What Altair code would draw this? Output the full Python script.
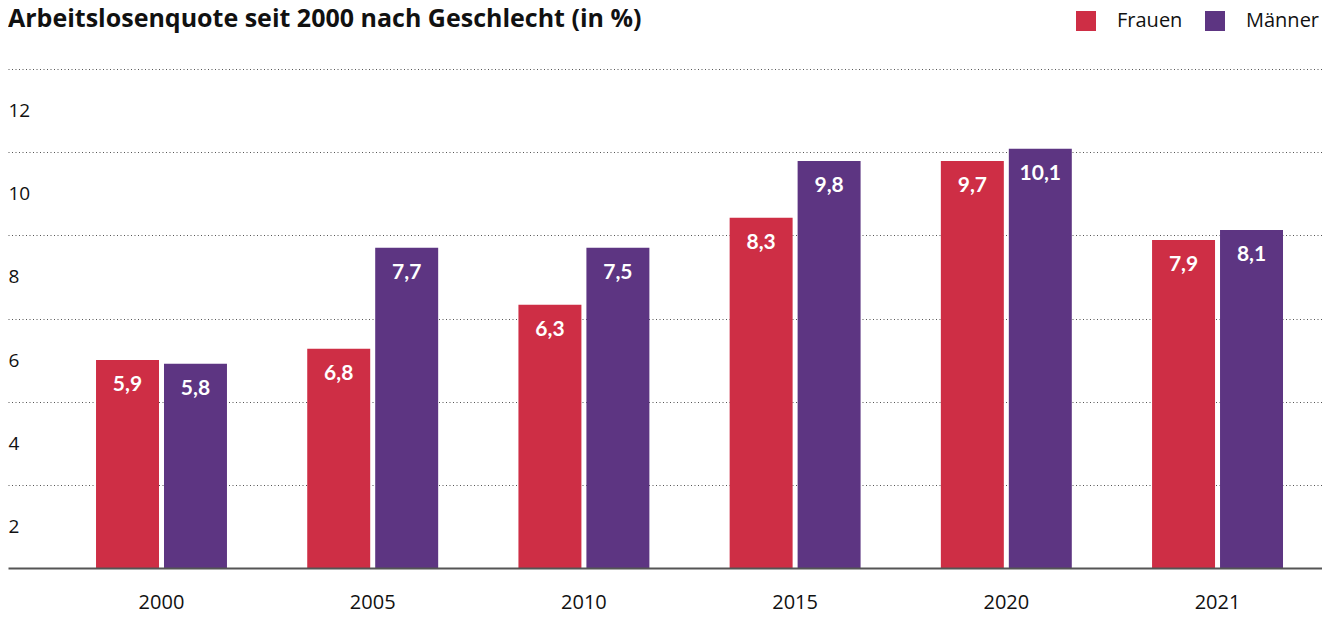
import altair as alt
import pandas as pd

titel = ["Arbeitslosenquote seit 2000 nach Geschlecht (in %)"]
jahre = ["2000", "2005", "2010", "2015", "2020", "2021"]
gruppen = ["Frauen", "Männer"]
farben = ["#CE2E45", "#5D3582"]
# bar heights as drawn in the picture
frauen_hoehe = [5.0, 5.27, 6.33, 8.42, 9.79, 7.89]
maenner_hoehe = [4.91, 7.70, 7.70, 9.79, 10.08, 8.13]
# printed value labels
frauen_label = ["5,9", "6,8", "6,3", "8,3", "9,7", "7,9"]
maenner_label = ["5,8", "7,7", "7,5", "9,8", "10,1", "8,1"]
y_ticks = [2, 4, 6, 8, 10, 12]

rows = []
for i, j in enumerate(jahre):
    rows.append({"Jahr": j, "Geschlecht": "Frauen", "Wert": frauen_hoehe[i], "Label": frauen_label[i]})
    rows.append({"Jahr": j, "Geschlecht": "Männer", "Wert": maenner_hoehe[i], "Label": maenner_label[i]})
df = pd.DataFrame(rows)

FONT = "Open Sans"
TFONT = "Lato"

x = alt.X(
    "Jahr:N", sort=jahre,
    scale=alt.Scale(paddingInner=0.38, paddingOuter=0.3007, align=0.693),
    axis=alt.Axis(title=None, labelAngle=0, ticks=False, tickSize=0, domain=True,
                  domainColor="#555555", domainWidth=2, labelFontSize=20,
                  labelPadding=24, labelColor="#111111", labelFont=FONT, zindex=1),
)
xoff = alt.XOffset("Geschlecht:N", sort=gruppen,
                   scale=alt.Scale(paddingInner=0.0735, paddingOuter=0))
y = alt.Y(
    "Wert:Q", scale=alt.Scale(domain=[0, 12], nice=False),
    axis=alt.Axis(title=None, values=y_ticks, grid=True, gridDash=[1, 2.5],
                  gridColor="#555555", gridWidth=1, domain=False, ticks=False,
                  tickSize=0, labelAlign="left", labelPadding=0, labelOffset=41.6,
                  labelBaseline="middle", labelFontSize=19, labelFont=FONT,
                  labelColor="#111111"),
)
color = alt.Color(
    "Geschlecht:N", scale=alt.Scale(domain=gruppen, range=farben),
    legend=alt.Legend(title=None, orient="none", legendX=1068, legendY=-58,
                      direction="horizontal", symbolType="square", symbolSize=400,
                      symbolStrokeWidth=0, symbolOpacity=1, labelFontSize=20,
                      labelFont=FONT, labelColor="#111111", labelOffset=21,
                      columnPadding=22, padding=0),
)

bars = alt.Chart(df).mark_bar().encode(x=x, xOffset=xoff, y=y, color=color)
texts = alt.Chart(df).mark_text(
    dy=25, baseline="middle", align="center", fontWeight="bold", fontSize=21,
    font=TFONT, color="white"
).encode(x=x, xOffset=xoff, y=y, text="Label:N")

title_df = pd.DataFrame({"t": titel})
title_mark = alt.Chart(title_df).mark_text(
    align="left", baseline="alphabetic", fontSize=25, font=FONT,
    fontWeight="bold", color="#111111"
).encode(x=alt.value(0), y=alt.value(-42), text="t:N")

chart = alt.layer(bars, texts, title_mark).properties(
    width=1314, height=499,
    autosize=alt.AutoSizeParams(type="none"),
    padding={"left": 0, "top": 61, "right": 0, "bottom": 48},
).configure_view(stroke=None)

chart.save("out.html", embed_options={"renderer": "svg", "actions": False})
